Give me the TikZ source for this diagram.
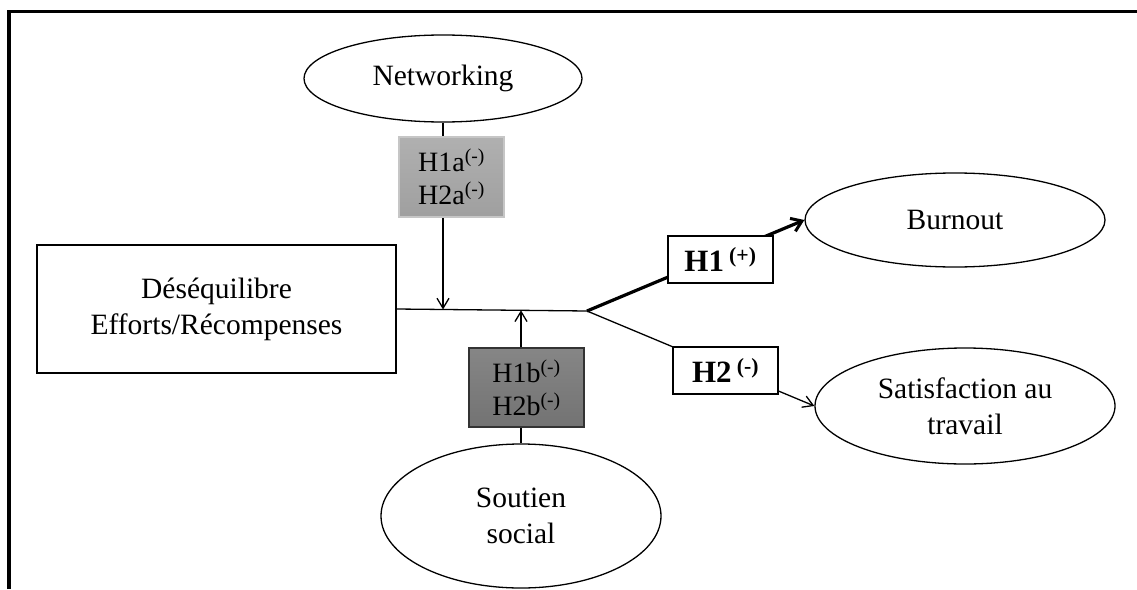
\documentclass[tikz,border=0pt]{standalone}
\usepackage{fontspec}
\setmainfont{Liberation Serif}
\usetikzlibrary{shapes.geometric,arrows.meta}

\begin{document}
\begin{tikzpicture}[x=1pt, y=-1pt,
    construct/.style ={ellipse, draw, line width=1.3pt, inner sep=0pt, align=center,
      font=\fontsize{29.5}{36}\selectfont},
    hypbox/.style ={rectangle, draw, line width=1.3pt, inner sep=0pt, align=center,
      minimum width=105pt, minimum height=47pt, fill=white,
      font=\fontsize{31}{36}\selectfont\bfseries},
    modbox/.style ={rectangle, draw, inner sep=0pt, align=center,
      font=\fontsize{28}{33}\selectfont},
    link/.style ={line width=1.3pt, -{Straight Barb[length=10pt, width=12pt, line width=1.3pt]}}]
   \useasboundingbox (0,0) rectangle (1137,589);

   % frame
   \draw[line width=3.5pt] (9,589) -- (9,11.5) -- (1137,11.5);

   \node[construct, minimum width=278pt, minimum height=87pt] (N) at (443,78.5) {Networking};
   \node[construct, minimum width=300pt, minimum height=94pt] (B) at (955,220) {Burnout};
   \node[construct, minimum width=300pt, minimum height=116pt] (Sat) at (965,406) {Satisfaction au\\travail};
   \node[construct, minimum width=280pt, minimum height=144pt] (S) at (521,516) {Soutien\\social};
   \node[rectangle, draw, line width=1.3pt, minimum width=359pt, minimum height=128pt,
     align=center, font=\fontsize{29.5}{36}\selectfont] (D) at (216.5,309) {Déséquilibre\\Efforts/Récompenses};

   \node[modbox, draw=gray!45, line width=1.5pt, top color=gray!62, bottom color=gray!75,
     minimum width=105pt, minimum height=80pt] (H1a) at (451.5,177) {H1a\textsuperscript{(-)}\\H2a\textsuperscript{(-)}};
   \node[modbox, draw=black!80, line width=1.5pt, top color=gray!95!white, bottom color=black!55,
     minimum width=115pt, minimum height=79pt] (H1b) at (526.5,387.5) {H1b\textsuperscript{(-)}\\H2b\textsuperscript{(-)}};

   \coordinate (j) at (587,311);
   \coordinate (m1) at (443,309.5);
   \coordinate (m2) at (521,310.3);

   \draw[line width=1.3pt] (D.east) -- (j);
   \draw[line width=1.3pt] (N.south) -- (N.south |- H1a.north);
   \draw[link] (N.south |- H1a.south) -- (m1);
   \draw[line width=1.3pt] (S.north) -- (S.north |- H1b.south);
   \draw[link] (S.north |- H1b.north) -- (m2);
   \draw[link, line width=3.2pt, -{Straight Barb[length=10pt, width=14pt, line width=3pt]}] (j) -- (B.west);
   \draw[link] (j) -- (Sat.west);

   \node[hypbox] (H1) at (720.5,259.5) {H1\,\textsuperscript{(+)}};
   \node[hypbox] (H2) at (725.5,370.5) {H2\,\textsuperscript{(-)}};

 \end{tikzpicture}
\end{document}
